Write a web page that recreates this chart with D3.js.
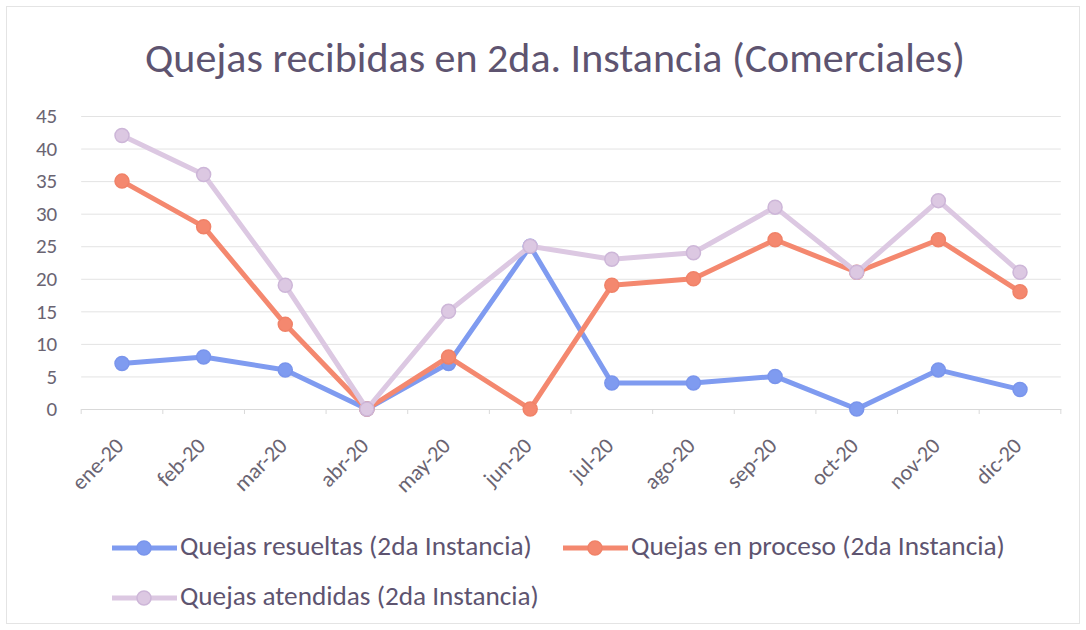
<!DOCTYPE html>
<html><head><meta charset="utf-8">
<script src="https://cdn.jsdelivr.net/npm/d3@7"></script>
<style>body{margin:0;background:#fff}svg{display:block}text{font-family:Carlito,Lato,"Open Sans",sans-serif}</style>
</head><body>
<svg id="c" width="1086" height="630"></svg>
<script>
const title = "Quejas recibidas en 2da. Instancia (Comerciales)";
const categories = ["ene-20","feb-20","mar-20","abr-20","may-20","jun-20","jul-20","ago-20","sep-20","oct-20","nov-20","dic-20"];
const yTicks = [0,5,10,15,20,25,30,35,40,45];
const resueltas = [7,8,6,0,7,25,4,4,5,0,6,3];
const enProceso = [35,28,13,0,8,0,19,20,26,21,26,18];
const atendidas = [42,36,19,0,15,25,23,24,31,21,32,21];
const seriesNames = ["Quejas resueltas (2da Instancia)","Quejas en proceso (2da Instancia)","Quejas atendidas (2da Instancia)"];
const colors = ["#7f9bf0","#f4886f","#dcc8e2"];
const strokeCols = ["#7a95ec","#f08268","#cdb6d8"];
const textCol = "#5e5470";
const axisCol = "#6a6472";

const svg = d3.select("#c");
svg.append("rect").attr("x",6.5).attr("y",6.5).attr("width",1073).attr("height",617).attr("fill","#fff").attr("stroke","#e4e4e4");

const x = d3.scalePoint().domain(categories).range([122,1020]);
const step = x.step();
const y = d3.scaleLinear().domain([0,45]).range([409,116]);

function fit(sel, target){
  let fs = +sel.attr("font-size");
  const w = sel.node().getComputedTextLength();
  sel.attr("font-size", (fs*target/w).toFixed(2));
}

const t = svg.append("text").attr("x",555).attr("y",72).attr("text-anchor","middle").attr("font-size",30).attr("fill",textCol).text(title);
fit(t, 820);

// gridlines
const yAxis = d3.axisLeft(y).tickValues(yTicks).tickSize(-(step*12)).tickPadding(24);
const gy = svg.append("g").attr("transform",`translate(${122-step/2},0)`).call(yAxis);
gy.select(".domain").remove();
gy.selectAll(".tick line").attr("stroke","#e3e3e3").attr("stroke-width",1);
gy.selectAll(".tick text").attr("font-size",21).attr("fill",axisCol);

// x axis with ticks between categories
const xb = d3.scaleBand().domain(categories).range([122-step/2,1020+step/2]);
const xAxis = d3.axisBottom(xb).tickSize(0).tickFormat("");
const gx = svg.append("g").attr("transform","translate(0,409)").call(xAxis);
gx.select(".domain").attr("stroke","#d9d9d9");
gx.selectAll(".tick").remove();
const bounds = d3.range(13).map(i=>122-step/2+i*step);
gx.selectAll("line.b").data(bounds).join("line").attr("x1",d=>d).attr("x2",d=>d).attr("y1",0).attr("y2",5).attr("stroke","#d9d9d9");
gx.selectAll("text.lab").data(categories).join("text").attr("class","lab")
  .attr("transform",d=>`translate(${x(d)+3},38) rotate(-45)`)
  .attr("text-anchor","end").attr("font-size",22).attr("fill",axisCol).text(d=>d);

// lines
const data = [resueltas, enProceso, atendidas];
const line = d3.line().x((d,i)=>x(categories[i])).y(d=>y(d));
data.forEach((vals,k)=>{
  const g = svg.append("g");
  g.append("path").datum(vals).attr("d",line).attr("fill","none").attr("stroke",colors[k]).attr("stroke-width",5).attr("stroke-linejoin","round");
  g.selectAll("circle").data(vals).join("circle").attr("cx",(d,i)=>x(categories[i])).attr("cy",d=>y(d)).attr("r",7)
    .attr("fill",colors[k]).attr("stroke",strokeCols[k]).attr("stroke-width",1.5);
});

// legend
const legPos = [[112,548,352],[563,548,374],[112,598,359]];
seriesNames.forEach((n,k)=>{
  const [lx,ly,w] = legPos[k];
  const g = svg.append("g");
  g.append("line").attr("x1",lx).attr("x2",lx+65).attr("y1",ly).attr("y2",ly).attr("stroke",colors[k]).attr("stroke-width",5);
  g.append("circle").attr("cx",lx+32).attr("cy",ly).attr("r",7).attr("fill",colors[k]).attr("stroke",strokeCols[k]).attr("stroke-width",1.5);
  const tt = g.append("text").attr("x",lx+68).attr("y",ly+7).attr("font-size",20).attr("fill",textCol).text(n);
  fit(tt, w);
});
</script>
</body></html>
